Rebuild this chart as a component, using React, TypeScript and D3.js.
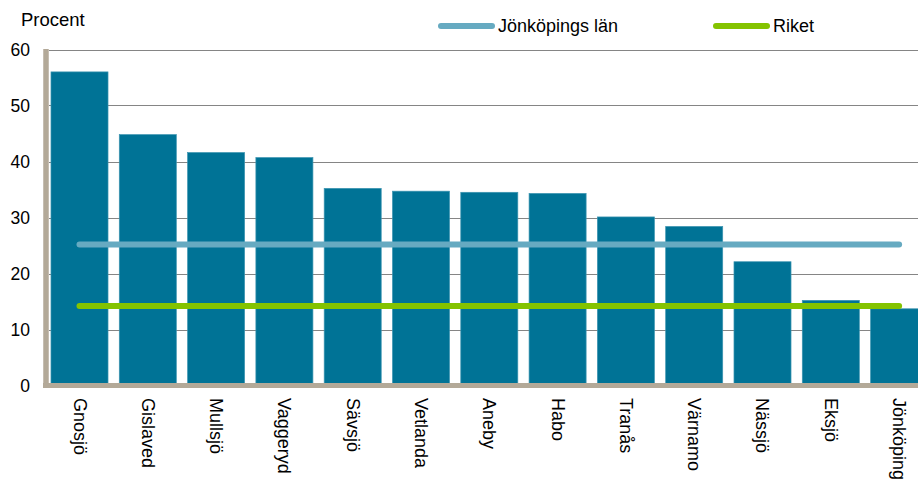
import React from "react";
import * as d3 from "d3";

const categories = ["Gnosjö", "Gislaved", "Mullsjö", "Vaggeryd", "Sävsjö", "Vetlanda", "Aneby", "Habo", "Tranås", "Värnamo", "Nässjö", "Eksjö", "Jönköping"];
const values = [56.0, 44.8, 41.6, 40.7, 35.2, 34.7, 34.5, 34.3, 30.1, 28.4, 22.1, 15.2, 13.7];
const lanValue = 25.2;
const riketValue = 14.2;
const yTicks = [0, 10, 20, 30, 40, 50, 60];
const legendItems = ["Jönköpings län", "Riket"];

const W = 918;
const H = 481;
const FONT = "'Liberation Sans', Arial, sans-serif";
const BAR = "#007396";
const TAN = "#b3a998";
const LAN = "#66aac1";
const RIKET = "#84c300";

export default function App() {
  const x = d3.scaleBand<string>().domain(categories).range([46, 932.6]).paddingInner(0.165).paddingOuter(0.073);
  const y = d3.scaleLinear().domain([0, 60]).range([385.5, 49.5]);
  const bw = x.bandwidth();
  const cx = (c: string) => (x(c) as number) + bw / 2;
  const line = d3.line<[number, number]>().x((d) => d[0]).y((d) => d[1]);
  const first = categories[0];
  const last = categories[categories.length - 1];
  const legendX = [438, 713];
  const legendColors = [LAN, RIKET];

  return (
    <svg width={W} height={H} style={{ position: "absolute", left: 0, top: 0, background: "#fff" }} fontFamily={FONT}>
      {yTicks.filter((t) => t > 0).map((t) => (
        <line key={t} x1={49} x2={W} y1={Math.round(y(t)) + 0.5} y2={Math.round(y(t)) + 0.5} stroke="#858585" strokeWidth={1} />
      ))}
      {categories.map((c, i) => (
        <rect key={c} x={x(c)} y={y(values[i])} width={bw} height={y(0) - y(values[i])} fill={BAR} stroke="#3d95b1" strokeWidth={0.7} />
      ))}
      <path d={line([[cx(first), y(lanValue)], [cx(last), y(lanValue)]]) || ""} stroke={LAN} strokeWidth={6} strokeLinecap="round" fill="none" />
      <path d={line([[cx(first), y(riketValue)], [cx(last), y(riketValue)]]) || ""} stroke={RIKET} strokeWidth={6} strokeLinecap="round" fill="none" />
      <line x1={46} x2={46} y1={49} y2={388} stroke={TAN} strokeWidth={5.5} />
      <line x1={43} x2={W} y1={385.5} y2={385.5} stroke={TAN} strokeWidth={5} />
      {yTicks.map((t) => (
        <text key={t} x={30} y={y(t)} textAnchor="end" dominantBaseline="central" fontSize={17.5} fill="#000">{t}</text>
      ))}
      <text x={21} y={19} dominantBaseline="central" fontSize={18.5} fill="#000">Procent</text>
      {categories.map((c) => (
        <text key={c} transform={`translate(${cx(c)},398) rotate(90)`} dominantBaseline="central" fontSize={18} fill="#000">{c}</text>
      ))}
      {legendItems.map((l, i) => (
        <g key={l}>
          <line x1={legendX[i] + 3} x2={legendX[i] + 54} y1={26} y2={26} stroke={legendColors[i]} strokeWidth={6} strokeLinecap="round" />
          <text x={legendX[i] + 60} y={26} dominantBaseline="central" fontSize={18} fill="#000">{l}</text>
        </g>
      ))}
    </svg>
  );
}
